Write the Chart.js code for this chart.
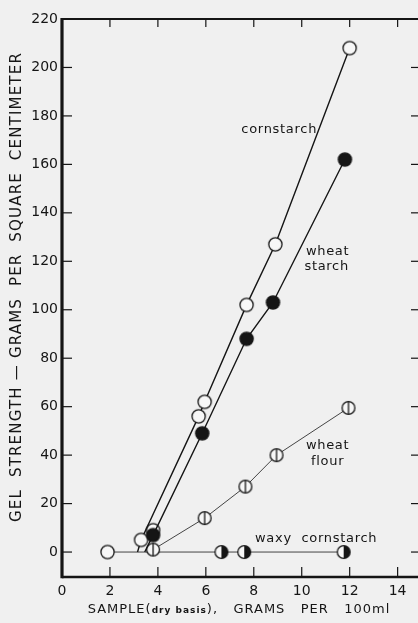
<!DOCTYPE html>
<html>
<head>
<meta charset="utf-8">
<script src="https://cdn.jsdelivr.net/npm/chart.js@4.4.1/dist/chart.umd.min.js"></script>
<style>
  html, body { margin: 0; padding: 0; background: #f0f0f0; }
  #wrap { width: 418px; height: 623px; position: relative; }
</style>
</head>
<body>
<div id="wrap"><canvas id="chart"></canvas></div>
<script>
// sample, g per 100 ml (dry basis)  vs  gel strength, g per cm2
// first point of the two starch lines is only where the line meets zero (no marker)
const cornstarchX = [3.15, 3.3, 5.7, 5.95, 7.7, 8.9, 12.0];
const cornstarchY = [0, 5, 56, 62, 102, 127, 208];
const cornstarchHiddenX = [3.8];
const cornstarchHiddenY = [9];
const wheatStarchX = [3.45, 3.8, 5.85, 7.7, 8.8, 11.8];
const wheatStarchY = [0, 7, 49, 88, 103, 162];
const wheatFlourX = [3.8, 5.95, 7.65, 8.95, 11.95];
const wheatFlourY = [1, 14, 27, 40, 59.5];
const waxyX = [1.9, 6.65, 7.6, 11.75];
const waxyY = [0, 0, 0, 0];

const xTicks = [0, 2, 4, 6, 8, 10, 12, 14];
const yTicks = [0, 20, 40, 60, 80, 100, 120, 140, 160, 180, 200, 220];

// curve labels: [text, x, y] in data units
const curveLabels = [
  ["cornstarch", 9.06, 174.5],
  ["wheat", 11.08, 123.8],
  ["starch", 11.04, 118],
  ["wheat", 11.08, 43.8],
  ["flour", 11.08, 37.2],
  ["waxy  cornstarch", 10.6, 5.4]
];

const ink = "#151515";
const FONT = "'DejaVu Sans', sans-serif";

function pts(xs, ys) {
  return xs.map((x, i) => ({ x: x, y: ys[i] }));
}

function marker(kind, r) {
  const c = document.createElement("canvas");
  const size = Math.ceil(r * 2 + 3);
  c.width = size; c.height = size;
  const g = c.getContext("2d");
  const m = size / 2;
  g.lineWidth = 1.3;
  g.strokeStyle = ink;
  g.beginPath(); g.arc(m, m, r, 0, Math.PI * 2);
  g.fillStyle = kind === "filled" ? ink : "#f7f7f7";
  g.fill();
  if (kind === "half") {
    g.beginPath();
    g.moveTo(m, m - r);
    g.arc(m, m, r, -Math.PI / 2, Math.PI / 2);
    g.closePath();
    g.fillStyle = ink;
    g.fill();
  }
  if (kind === "bar") {
    g.beginPath(); g.moveTo(m, m - r); g.lineTo(m, m + r); g.stroke();
  }
  g.beginPath(); g.arc(m, m, r, 0, Math.PI * 2); g.stroke();
  return c;
}

const openM = marker("open", 6.6);
const filledM = marker("filled", 6.6);
const barM = marker("bar", 6.4);
const halfM = marker("half", 6.4);

function line(ctx, x1, y1, x2, y2) {
  ctx.beginPath(); ctx.moveTo(x1, y1); ctx.lineTo(x2, y2); ctx.stroke();
}

const framePlugin = {
  id: "frame",
  beforeDatasetsDraw(chart) {
    const { ctx, chartArea: a, scales: { x, y } } = chart;
    ctx.save();
    ctx.strokeStyle = ink;
    ctx.lineWidth = 3.2;
    line(ctx, a.left, a.top - 1, a.left, a.bottom + 1.3);
    ctx.lineWidth = 2.6;
    line(ctx, a.left, a.bottom, a.right, a.bottom);
    ctx.lineWidth = 2;
    line(ctx, a.left, a.top, a.right, a.top);
    ctx.lineWidth = 1.2;
    yTicks.forEach(v => {
      const py = y.getPixelForValue(v);
      if (v < 220) line(ctx, a.left, py, a.left + 10, py);
      line(ctx, a.right, py, a.right - 7, py);
    });
    xTicks.forEach(v => {
      const px = x.getPixelForValue(v);
      if (v > 0) {
        line(ctx, px, a.bottom, px, a.bottom - 10);
        line(ctx, px, a.top, px, a.top + 8);
      }
    });
    ctx.restore();
  },
  afterDraw(chart) {
    const { ctx, scales: { x, y } } = chart;
    ctx.save();
    ctx.fillStyle = ink;
    ctx.textBaseline = "middle";
    ctx.textAlign = "center";
    ctx.font = "13px " + FONT;
    ctx.letterSpacing = "0.7px";
    curveLabels.forEach(([t, dx, dy]) => {
      ctx.fillText(t, x.getPixelForValue(dx), y.getPixelForValue(dy));
    });

    // y title
    const yTitle = "GEL  STRENGTH — GRAMS  PER  SQUARE  CENTIMETER";
    ctx.font = "15px " + FONT;
    ctx.letterSpacing = "0px";
    const nat = ctx.measureText(yTitle).width;
    ctx.letterSpacing = ((470 - nat) / yTitle.length) + "px";
    const w = ctx.measureText(yTitle).width;
    ctx.textAlign = "left";
    ctx.translate(17, 287);
    ctx.rotate(-Math.PI / 2);
    ctx.fillText(yTitle, -w / 2, 0);
    ctx.restore();

    // x title with small bold "(dry basis)"
    ctx.save();
    ctx.fillStyle = ink;
    ctx.textBaseline = "alphabetic";
    ctx.textAlign = "left";
    ctx.letterSpacing = "1px";
    const parts = [
      ["SAMPLE(", "13px " + FONT],
      ["dry basis", "bold 9px " + FONT],
      ["),   GRAMS   PER   100ml", "13px " + FONT]
    ];
    let total = 0;
    parts.forEach(p => { ctx.font = p[1]; total += ctx.measureText(p[0]).width; });
    let px = 239 - total / 2;
    parts.forEach(p => {
      ctx.font = p[1];
      ctx.fillText(p[0], px, 613);
      px += ctx.measureText(p[0]).width;
    });
    ctx.restore();
  }
};

new Chart(document.getElementById("chart"), {
  type: "scatter",
  data: {
    datasets: [
      {
        label: "wheat starch",
        data: pts(wheatStarchX, wheatStarchY),
        showLine: true,
        borderColor: ink,
        borderWidth: 1.4,
        pointStyle: filledM,
        pointRadius: c => (c.dataIndex === 0 ? 0 : 6)
      },
      {
        label: "cornstarch",
        data: pts(cornstarchX, cornstarchY),
        showLine: true,
        borderColor: ink,
        borderWidth: 1.4,
        pointStyle: openM,
        pointRadius: c => (c.dataIndex === 0 ? 0 : 6)
      },
      {
        label: "cornstarch (hidden point)",
        data: pts(cornstarchHiddenX, cornstarchHiddenY),
        showLine: false,
        pointStyle: openM,
        pointRadius: 6
      },
      {
        label: "wheat flour",
        data: pts(wheatFlourX, wheatFlourY),
        showLine: true,
        borderColor: "#444",
        borderWidth: 1,
        pointStyle: barM,
        pointRadius: 6
      },
      {
        label: "waxy cornstarch",
        data: pts(waxyX, waxyY),
        showLine: true,
        borderColor: "#444",
        borderWidth: 1,
        pointStyle: c => (c.dataIndex === 0 ? openM : halfM),
        pointRadius: 6
      }
    ]
  },
  options: {
    responsive: true,
    maintainAspectRatio: false,
    animation: false,
    layout: { autoPadding: false, padding: { top: 19, right: 0, left: 0, bottom: 0 } },
    plugins: { legend: { display: false }, tooltip: { enabled: false } },
    scales: {
      x: {
        type: "linear",
        min: 0,
        max: 14.85,
        afterBuildTicks: s => { s.ticks = xTicks.map(v => ({ value: v })); },
        afterFit: s => { s.height = 46; s.paddingLeft = 0; s.paddingRight = 0; },
        grid: { display: false, drawTicks: false },
        border: { display: false },
        ticks: { color: ink, font: { family: FONT, size: 14 }, padding: 6, maxRotation: 0, autoSkip: false }
      },
      y: {
        type: "linear",
        min: -10.3,
        max: 220,
        afterBuildTicks: s => { s.ticks = yTicks.map(v => ({ value: v })); },
        afterFit: s => { s.width = 62; s.paddingTop = 0; s.paddingBottom = 0; },
        grid: { display: false, drawTicks: false },
        border: { display: false },
        ticks: { color: ink, font: { family: FONT, size: 14 }, padding: 4, autoSkip: false }
      }
    }
  },
  plugins: [framePlugin]
});
</script>
</body>
</html>
